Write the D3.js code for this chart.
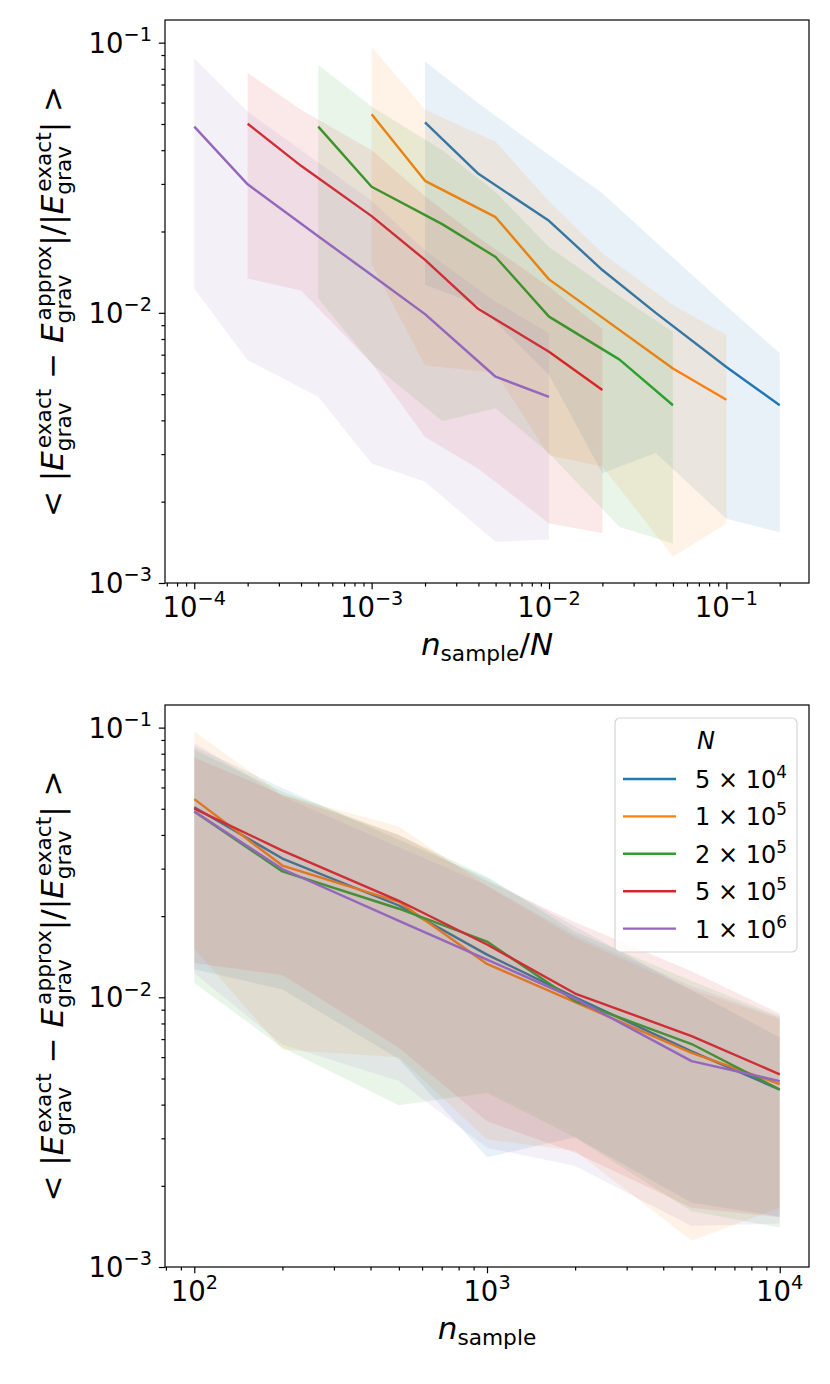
<!DOCTYPE html>
<html><head><meta charset="utf-8">
<script src="https://cdn.jsdelivr.net/npm/d3@7"></script>
<style>
body{margin:0;background:#fff}
svg{display:block}
text{font-family:"DejaVu Sans",sans-serif;white-space:pre;fill:#000}
</style>
</head><body>
<svg id="c" width="830" height="1384"></svg>
<script>
// ---------------- data ----------------
const nSample = [100, 200, 500, 1000, 2000, 5000, 10000];
const particleCounts = [5e4, 1e5, 2e5, 5e5, 1e6];
const legendMantissa = ["5", "1", "2", "5", "1"];
const legendExponent = ["4", "5", "5", "5", "6"];
const seriesColors = ["#1f77b4", "#ff7f0e", "#2ca02c", "#d62728", "#9467bd"];

const mean5e4  = [0.0507, 0.0327, 0.0219, 0.0144, 0.0100, 0.0063, 0.00455];
const upper5e4 = [0.0851, 0.0597, 0.0384, 0.0277, 0.0183, 0.0106, 0.0071];
const lower5e4 = [0.0127, 0.0107, 0.0059, 0.00255, 0.00303, 0.00173, 0.00154];

const mean1e5  = [0.0543, 0.0308, 0.0226, 0.0133, 0.0096, 0.00622, 0.00477];
const upper1e5 = [0.0967, 0.0564, 0.0430, 0.0258, 0.0166, 0.0107, 0.0083];
const lower1e5 = [0.0152, 0.0064, 0.0060, 0.00297, 0.0027, 0.00125, 0.00166];

const mean2e5  = [0.0489, 0.0293, 0.0213, 0.0161, 0.00968, 0.00671, 0.00455];
const upper2e5 = [0.0827, 0.0580, 0.0400, 0.0280, 0.0175, 0.0115, 0.0085];
const lower2e5 = [0.0113, 0.0065, 0.00398, 0.00443, 0.00302, 0.00161, 0.0014];

const mean5e5  = [0.0501, 0.0350, 0.0228, 0.0157, 0.01033, 0.00718, 0.00518];
const upper5e5 = [0.0774, 0.0564, 0.0400, 0.0270, 0.0190, 0.0125, 0.0087];
const lower5e5 = [0.0134, 0.0121, 0.0065, 0.00347, 0.00265, 0.00166, 0.00153];

const mean1e6  = [0.0489, 0.0299, 0.0192, 0.0138, 0.00989, 0.0058, 0.00489];
const upper1e6 = [0.0876, 0.0555, 0.0360, 0.0260, 0.0170, 0.0110, 0.0084];
const lower1e6 = [0.0123, 0.00668, 0.00489, 0.00277, 0.00237, 0.00142, 0.00145];

const meanList  = [mean5e4, mean1e5, mean2e5, mean5e5, mean1e6];
const upperList = [upper5e4, upper1e5, upper2e5, upper5e5, upper1e6];
const lowerList = [lower5e4, lower1e5, lower2e5, lower5e5, lower1e6];

const series = particleCounts.map((N, i) => ({
  N, color: seriesColors[i],
  pts: nSample.map((n, j) => ({n, m: meanList[i][j], hi: upperList[i][j], lo: lowerList[i][j]}))
}));

// ---------------- layout ----------------
const svg = d3.select("#c");
const FS = 27.5;         // tick label size
const LFS = 31;          // axis label size
const LEGFS = 24;        // legend size
const tickMajor = 6.2, tickMinor = 3.6;

function mathExpr(parent, tokens, size) {
  const g = parent.append("g");
  let x = 0;
  tokens.forEach(tok => {
    if (tok.t !== undefined) {
      const el = g.append("text").attr("x", x).attr("y", 0)
        .style("font-size", size + "px")
        .style("font-style", tok.it ? "italic" : "normal").text(tok.t);
      x += el.node().getComputedTextLength();
    }
    if (tok.sup || tok.sub) {
      const ss = size * 0.7;
      let w = 0;
      if (tok.sup) {
        const dx = tok.supdx || 0;
        const e = g.append("text").attr("x", x + dx).attr("y", -size * 0.40)
          .style("font-size", ss + "px").text(tok.sup);
        w = Math.max(w, e.node().getComputedTextLength() + dx);
      }
      if (tok.sub) {
        const e = g.append("text").attr("x", x).attr("y", size * (tok.sup ? 0.27 : 0.2))
          .style("font-size", ss + "px").text(tok.sub);
        w = Math.max(w, e.node().getComputedTextLength());
      }
      x += w;
    }
  });
  return {g, width: x};
}

function powLabel(parent, x, y, exp, anchor, size) {
  const t = parent.append("text").attr("x", x).attr("y", y)
    .attr("text-anchor", anchor).style("font-size", size + "px");
  t.append("tspan").text("10");
  t.append("tspan").attr("dy", -size * 0.42).style("font-size", (size * 0.7) + "px").text(exp);
  return t;
}

const yDomain = [1.0e-3, 0.1213];

function drawPanel(cfg) {
  const {left, right, topY, bottom, xDomain, xKey, xMajors} = cfg;
  const x = d3.scaleLog().domain(xDomain).range([left, right]);
  const y = d3.scaleLog().domain(yDomain).range([bottom, topY]);
  const g = svg.append("g");
  const clipId = "clip" + topY;
  svg.append("clipPath").attr("id", clipId).append("rect")
    .attr("x", left).attr("y", topY).attr("width", right - left).attr("height", bottom - topY);
  const plot = g.append("g").attr("clip-path", `url(#${clipId})`);

  const area = d3.area().x(d => x(xKey(d))).y0(d => y(d.lo)).y1(d => y(d.hi));
  const line = d3.line().x(d => x(xKey(d))).y(d => y(d.m));
  series.forEach(s => {
    const pts = s.pts.map(p => Object.assign({N: s.N}, p));
    plot.append("path").attr("d", area(pts)).attr("fill", s.color).attr("fill-opacity", 0.1);
    plot.append("path").attr("d", line(pts)).attr("fill", "none")
      .attr("stroke", s.color).attr("stroke-width", 2.4).attr("stroke-linejoin", "round");
  });

  const [x0, x1] = xDomain;
  const xMinors = [];
  for (let e = Math.floor(Math.log10(x0)); e <= Math.ceil(Math.log10(x1)); e++)
    for (let k = 2; k <= 9; k++) { const v = k * Math.pow(10, e); if (v >= x0 && v <= x1) xMinors.push(v); }
  const yMinors = [];
  for (let e = -3; e <= -1; e++)
    for (let k = 2; k <= 9; k++) { const v = k * Math.pow(10, e); if (v >= yDomain[0] && v <= yDomain[1]) yMinors.push(v); }
  const yMajors = [1e-3, 1e-2, 1e-1];

  const styleAxis = a => { a.select(".domain").remove(); a.selectAll("line").attr("stroke", "#000").attr("stroke-width", 1.2); a.selectAll("text").remove(); };
  g.append("g").attr("transform", `translate(0,${bottom})`)
    .call(d3.axisBottom(x).tickValues(xMinors).tickSize(tickMinor).tickFormat("")).call(styleAxis);
  g.append("g").attr("transform", `translate(0,${bottom})`)
    .call(d3.axisBottom(x).tickValues(xMajors).tickSize(tickMajor).tickFormat("")).call(styleAxis);
  g.append("g").attr("transform", `translate(${left},0)`)
    .call(d3.axisLeft(y).tickValues(yMinors).tickSize(tickMinor).tickFormat("")).call(styleAxis);
  g.append("g").attr("transform", `translate(${left},0)`)
    .call(d3.axisLeft(y).tickValues(yMajors).tickSize(tickMajor).tickFormat("")).call(styleAxis);

  g.append("rect").attr("x", left).attr("y", topY).attr("width", right - left).attr("height", bottom - topY)
    .attr("fill", "none").attr("stroke", "#000").attr("stroke-width", 1.2);

  xMajors.forEach(v => powLabel(g, x(v), bottom + 34, (v < 1 ? "\u2212" : "") + Math.abs(Math.round(Math.log10(v))), "middle", FS));
  yMajors.forEach(v => powLabel(g, left - 13, y(v) + 10, "\u2212" + Math.abs(Math.round(Math.log10(v))), "end", FS));

  const yl = mathExpr(g, [
    {t: "< |"}, {t: "E", it: true, sup: "exact", sub: "grav", supdx: 3},
    {t: " \u2212 "}, {t: "E", it: true, sup: "approx", sub: "grav", supdx: 3},
    {t: "|/|"}, {t: "E", it: true, sup: "exact", sub: "grav", supdx: 3}, {t: "| >"}
  ], LFS);
  const cy = (topY + bottom) / 2;
  yl.g.attr("transform", `translate(63,${cy}) rotate(-90) translate(${-yl.width / 2},0)`);

  const xl = mathExpr(g, cfg.xLabelTokens, LFS);
  xl.g.attr("transform", `translate(${(left + right) / 2 - xl.width / 2},${bottom + 72})`);
  return {g, x, y};
}

const topPanel = drawPanel({
  left: 165, right: 809, topY: 20, bottom: 583,
  xDomain: [6.84e-5, 0.2924], xKey: d => d.n / d.N,
  xMajors: [1e-4, 1e-3, 1e-2, 1e-1],
  xLabelTokens: [{t: "n", it: true, sub: "sample"}, {t: "/"}, {t: "N", it: true}]
});

const botPanel = drawPanel({
  left: 165, right: 809, topY: 705, bottom: 1267,
  xDomain: [79.43, 12589], xKey: d => d.n,
  xMajors: [1e2, 1e3, 1e4],
  xLabelTokens: [{t: "n", it: true, sub: "sample"}]
});

const lg = botPanel.g.append("g");
lg.append("rect").attr("x", 615).attr("y", 718).attr("width", 182).attr("height", 234)
  .attr("rx", 5).attr("fill", "#fff").attr("fill-opacity", 0.8).attr("stroke", "#d4d4d4").attr("stroke-width", 1.2);
lg.append("text").attr("x", 706).attr("y", 749).attr("text-anchor", "middle")
  .style("font-size", LEGFS + "px").style("font-style", "italic").text("N");
series.forEach((s, i) => {
  const yy = 779 + i * 37.4;
  lg.append("line").attr("x1", 623).attr("x2", 676).attr("y1", yy).attr("y2", yy)
    .attr("stroke", s.color).attr("stroke-width", 2.4);
  const t = lg.append("text").attr("x", 695).attr("y", yy + 9).style("font-size", LEGFS + "px");
  t.append("tspan").text(legendMantissa[i] + " \u00d7 10");
  t.append("tspan").attr("dy", -LEGFS * 0.42).style("font-size", (LEGFS * 0.7) + "px").text(legendExponent[i]);
});
</script>
</body></html>
